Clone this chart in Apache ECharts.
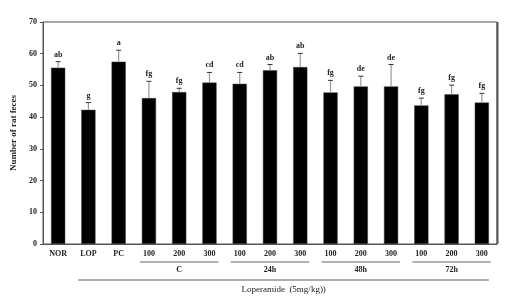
<!DOCTYPE html>
<html><head><meta charset="utf-8">
<script src="https://cdn.jsdelivr.net/npm/echarts@6/dist/echarts.min.js"></script>
<style>html,body{margin:0;padding:0;background:#fff}#c{width:513px;height:302px}</style>
</head><body><div id="c"></div>
<script>
const categories = ['NOR','LOP','PC','100','200','300','100','200','300','100','200','300','100','200','300'];
const means = [55.6, 42.3, 57.5, 46.0, 47.9, 50.9, 50.5, 54.8, 55.8, 47.8, 49.7, 49.7, 43.7, 47.2, 44.6];
const sds = [1.9, 2.3, 3.6, 5.3, 1.2, 3.2, 3.6, 1.8, 4.3, 3.8, 3.2, 6.9, 2.3, 2.9, 2.9];
const letters = ['ab','g','a','fg','fg','cd','cd','ab','ab','fg','de','de','fg','fg','fg'];
const groups = [{name:'C', from:3, to:5},{name:'24h', from:6, to:8},{name:'48h', from:9, to:11},{name:'72h', from:12, to:14}];
const outerLabel = 'Loperamide  (5mg/kg))';
const yTicks = {min:0, max:70, interval:10};

const FONT = "'Liberation Serif', 'Times New Roman', serif";
const chart = echarts.init(document.getElementById('c'), null, {renderer:'canvas'});
const errData = means.map((m,i)=>[i, m, m+sds[i]]);
chart.setOption({
  animation:false,
  grid:{left:43, top:22, right:16, bottom:58, show:true, borderColor:'#555', borderWidth:1},
  xAxis:{type:'category', data:categories,
    axisLine:{lineStyle:{color:'#555'}}, axisTick:{show:false},
    axisLabel:{fontFamily:FONT, fontWeight:'bold', fontSize:8, color:'#222', margin:6}},
  yAxis:{type:'value', min:yTicks.min, max:yTicks.max, interval:yTicks.interval,
    name:'Number of rat feces', nameLocation:'middle', nameGap:25,
    nameTextStyle:{fontFamily:FONT, fontWeight:'bold', fontSize:9, color:'#222'},
    axisLine:{show:true, lineStyle:{color:'#555'}}, axisTick:{show:true, length:3, lineStyle:{color:'#555'}},
    splitLine:{show:false},
    axisLabel:{fontFamily:FONT, fontWeight:'bold', fontSize:8, color:'#222', margin:6}},
  series:[
    {type:'bar', data:means, barWidth:'47%', itemStyle:{color:'#000', borderColor:'#444', borderWidth:0.5}},
    {type:'custom', data:errData, z:5,
      renderItem:function(params, api){
        const i = api.value(0);
        const p0 = api.coord([i, api.value(1)]);
        const p1 = api.coord([i, api.value(2)]);
        return {type:'group', children:[
          {type:'line', shape:{x1:p0[0], y1:p0[1], x2:p1[0], y2:p1[1]}, style:{stroke:'#999', lineWidth:1.2}},
          {type:'line', shape:{x1:p1[0]-2.5, y1:p1[1], x2:p1[0]+2.5, y2:p1[1]}, style:{stroke:'#333', lineWidth:1}},
          {type:'text', x:p1[0], y:p1[1]-3, style:{text:letters[params.dataIndex], fontFamily:FONT, fontWeight:'bold', fontSize:8, fill:'#222', align:'center', verticalAlign:'bottom'}}
        ]};
      }}
  ]
});
const yBase = chart.convertToPixel({yAxisIndex:0}, 0);
const yTop = chart.convertToPixel({yAxisIndex:0}, yTicks.max);
const px = i => chart.convertToPixel({xAxisIndex:0}, i);
const gfx = [];
const rightX = px(categories.length-1) + (px(1)-px(0))/2;
gfx.push({type:'line', shape:{x1:rightX+0.5, y1:yTop, x2:rightX+0.5, y2:yBase}, style:{stroke:'#555', lineWidth:2}});
groups.forEach(g=>{
  const x1 = px(g.from)-9, x2 = px(g.to)+9;
  gfx.push({type:'line', shape:{x1:x1, y1:yBase+18, x2:x2, y2:yBase+18}, style:{stroke:'#999', lineWidth:1.3}});
  gfx.push({type:'text', x:(x1+x2)/2, y:yBase+26, style:{text:g.name, fontFamily:FONT, fontWeight:'bold', fontSize:8, fill:'#222', align:'center', verticalAlign:'middle'}});
});
const lx1 = px(1)-10, lx2 = px(14)+7;
gfx.push({type:'line', shape:{x1:lx1, y1:yBase+36, x2:lx2, y2:yBase+36}, style:{stroke:'#333', lineWidth:0.8}});
gfx.push({type:'text', x:(lx1+lx2)/2, y:yBase+46, style:{text:outerLabel, fontFamily:FONT, fontSize:9, fill:'#222', align:'center', verticalAlign:'middle'}});
chart.setOption({graphic:gfx});
</script></body></html>
